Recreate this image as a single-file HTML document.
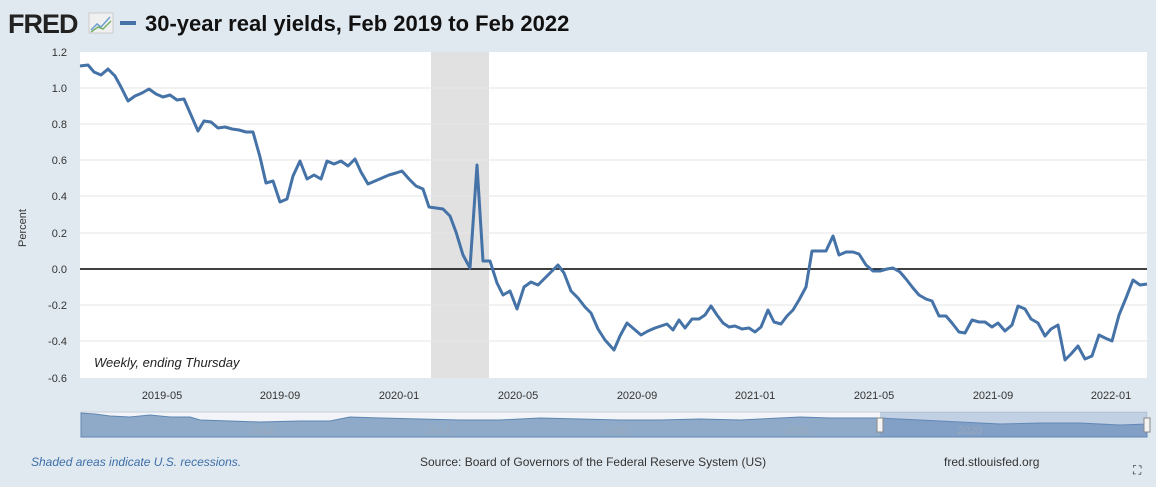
<!DOCTYPE html>
<html><head><style>
body{margin:0;background:#e1e9f0;width:1156px;height:482px;overflow:hidden;font-family:"Liberation Sans",sans-serif;}
</style></head><body>
<svg width="1156" height="482" xmlns="http://www.w3.org/2000/svg" font-family="Liberation Sans, sans-serif">
<rect width="1156" height="482" fill="#e1e9f0"/>
<text x="8" y="33" font-size="27" font-weight="bold" fill="#222" letter-spacing="-1">FRED</text>
<rect x="89" y="13" width="24" height="20" fill="#f0f0f0" stroke="#ccc"/>
<polyline points="91,30 97,24 101,27 110,17" fill="none" stroke="#6a9fd0" stroke-width="1.5"/>
<polyline points="91,32 98,27 103,29 111,21" fill="none" stroke="#7ab06a" stroke-width="1.5"/>
<rect x="120" y="21" width="16" height="4" fill="#4572a7"/>
<text x="145" y="31" font-size="22" font-weight="bold" fill="#111">30-year real yields, Feb 2019 to Feb 2022</text>
<rect x="80" y="52" width="1067" height="326" fill="#fff"/>
<rect x="431" y="52" width="58" height="326" fill="#e1e1e1"/>
<g stroke="#e6e6e6" stroke-width="1">
<line x1="80" x2="1147" y1="88" y2="88"/><line x1="80" x2="1147" y1="124" y2="124"/><line x1="80" x2="1147" y1="160" y2="160"/><line x1="80" x2="1147" y1="196" y2="196"/><line x1="80" x2="1147" y1="233" y2="233"/><line x1="80" x2="1147" y1="305" y2="305"/><line x1="80" x2="1147" y1="341" y2="341"/>
</g>
<line x1="80" x2="1147" y1="269" y2="269" stroke="#000" stroke-width="1.5"/>
<g font-size="11" fill="#333" text-anchor="end">
<text x="67" y="56">1.2</text><text x="67" y="92">1.0</text><text x="67" y="128">0.8</text><text x="67" y="164">0.6</text><text x="67" y="200">0.4</text><text x="67" y="237">0.2</text><text x="67" y="273">0.0</text><text x="67" y="309">-0.2</text><text x="67" y="345">-0.4</text><text x="67" y="382">-0.6</text>
</g>
<text x="26" y="228" font-size="11" fill="#333" text-anchor="middle" transform="rotate(-90 26 228)">Percent</text>
<g font-size="11" fill="#333" text-anchor="middle">
<text x="162" y="399">2019-05</text><text x="280" y="399">2019-09</text><text x="399" y="399">2020-01</text><text x="518" y="399">2020-05</text><text x="637" y="399">2020-09</text><text x="755" y="399">2021-01</text><text x="874" y="399">2021-05</text><text x="993" y="399">2021-09</text><text x="1111" y="399">2022-01</text>
</g>
<text x="94" y="367" font-size="13" font-style="italic" fill="#222">Weekly, ending Thursday</text>
<polyline fill="none" stroke="#4572a7" stroke-width="3" stroke-linejoin="round" points="80,66 88,65 94,72 101,75 108,69 115,76 121,87 128,101 135,96 142,93 149,89 156,94 163,97 170,95 177,100 184,99 191,115 198,131 204,121 211,122 218,128 225,127 232,129 239,130 246,132 253,132 260,157 266,183 273,181 280,202 287,199 293,176 300,161 307,179 314,175 321,179 327,161 334,164 341,161 348,166 355,159 361,172 368,184 375,181 382,178 389,175 396,173 402,171 409,179 416,186 423,189 429,207 436,208 443,209 450,216 456,232 463,255 470,268 477,165 483,261 490,261 497,283 503,295 510,291 517,309 524,287 531,282 538,285 545,278 551,272 558,265 564,273 571,291 578,298 585,307 591,313 598,329 605,340 614,350 620,336 627,323 634,329 641,335 648,331 655,328 661,326 667,324 673,330 679,320 685,328 692,319 699,319 705,315 711,306 717,315 723,323 729,327 735,326 742,329 749,328 755,332 761,327 768,310 774,322 781,324 787,316 793,310 799,300 806,287 812,251 818,251 826,251 833,236 839,255 846,252 853,252 859,254 866,265 873,271 880,271 887,269 893,268 900,272 906,279 913,288 919,295 926,299 932,301 939,316 946,316 952,323 959,332 965,333 972,320 979,322 985,322 992,327 998,323 1005,331 1012,325 1018,306 1025,309 1031,319 1038,323 1045,336 1051,329 1058,325 1065,360 1071,354 1078,346 1085,359 1092,356 1099,335 1105,338 1112,341 1119,315 1126,298 1133,280 1140,285 1147,284"/>
<rect x="81" y="412" width="1066" height="25" fill="#f2f4f7" stroke="#c8d0da"/>
<path d="M81,413 L95,414 L110,416 L130,417 L150,415 L170,417 L190,417 L200,420 L230,421 L260,422 L300,421 L330,421 L340,419 L350,417 L380,418 L420,419 L460,420 L500,420 L540,418 L580,419 L620,420 L660,420 L700,419 L740,420 L780,418 L800,417 L830,418 L880,418 L920,420 L960,422 L1000,424 L1040,423 L1080,423 L1120,425 L1147,424 L1147,437 L81,437 Z" fill="#8faac8" stroke="#5e86b3" stroke-width="1"/>
<rect x="880" y="412" width="267" height="25" fill="#6a8cc0" fill-opacity="0.35"/>
<g font-size="11" fill="#9aa9bb" text-anchor="middle"><text x="262" y="434">2012</text><text x="438" y="434">2014</text><text x="615" y="434">2016</text><text x="797" y="434">2018</text><text x="970" y="434">2020</text></g>
<rect x="877" y="418" width="6" height="14" fill="#f4f4f4" stroke="#888"/>
<rect x="1144" y="418" width="6" height="14" fill="#f4f4f4" stroke="#888"/>
<text x="31" y="466" font-size="12" font-style="italic" fill="#3d6fa8">Shaded areas indicate U.S. recessions.</text>
<text x="420" y="466" font-size="12" fill="#333">Source: Board of Governors of the Federal Reserve System (US)</text>
<text x="944" y="466" font-size="12" fill="#333">fred.stlouisfed.org</text>
<text x="1133" y="474" font-size="12" fill="#222">⛶</text>
</svg>
</body></html>
